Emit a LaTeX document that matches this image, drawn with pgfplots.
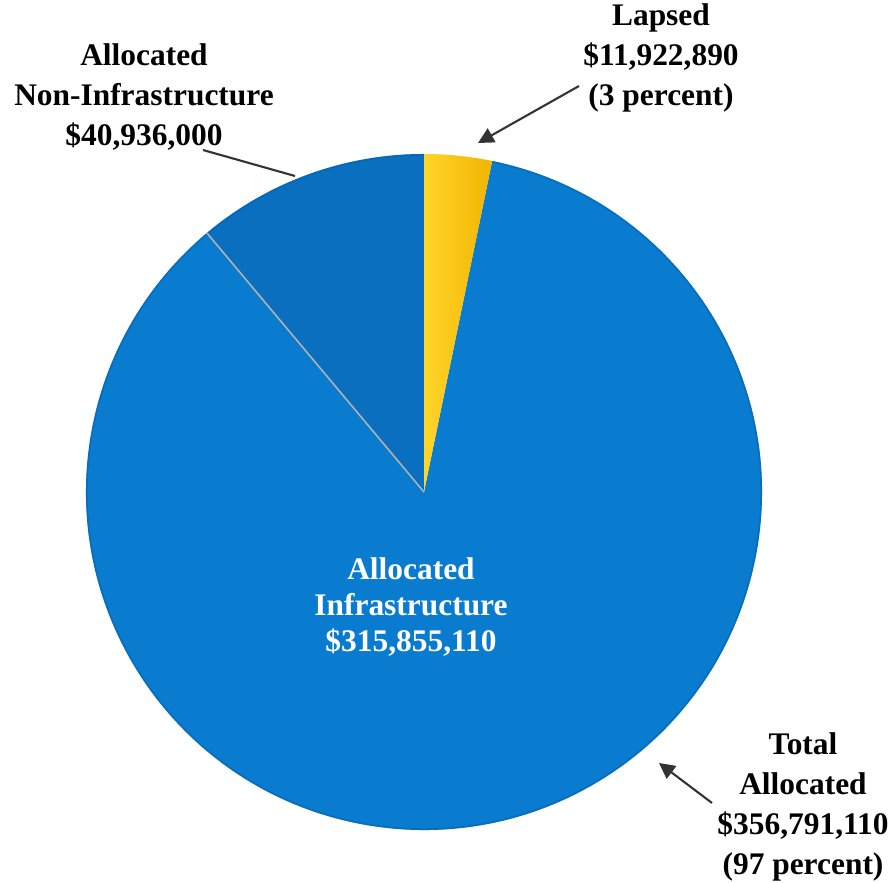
\documentclass[border=0pt]{standalone}
\usepackage{pgfplots}
\pgfplotsset{compat=1.18}
\usepackage{pgfplotstable}
\usepackage{fontspec}
\setmainfont{Liberation Serif}[BoldFont={Liberation Serif Bold}]
\usetikzlibrary{arrows.meta}
\definecolor{pieblue}{HTML}{0A7CD0}
\definecolor{pieblueD}{HTML}{0A6FBF}
\definecolor{pieblueE}{HTML}{0860A8}
\definecolor{pieyellowL}{HTML}{FFD52A}
\definecolor{pieyellowD}{HTML}{F3B400}
\tikzset{lbl/.style={font=\fontsize{9}{11.5}\selectfont\bfseries, align=center, inner sep=0pt}}
% values in millions of dollars
\pgfplotstableread{
name value
Lapsed 11.92289
Infrastructure 315.85511
NonInfrastructure 40.936
}\piedata
\pgfplotstablegetelem{0}{value}\of\piedata \let\vLap\pgfplotsretval
\pgfplotstablegetelem{1}{value}\of\piedata \let\vInf\pgfplotsretval
\pgfplotstablegetelem{2}{value}\of\piedata \let\vNon\pgfplotsretval
\pgfmathsetmacro\vTot{\vLap+\vInf+\vNon}
\pgfmathsetmacro\aLap{360*(\vLap/\vTot)}
\pgfmathsetmacro\aInf{360*(\vInf/\vTot)}
\pgfmathsetmacro\aNon{360*(\vNon/\vTot)}
\pgfmathsetmacro\bA{90-\aLap}
\pgfmathsetmacro\bB{90-\aLap-\aInf}
\def\R{3.4027cm}
\begin{document}
\begin{tikzpicture}
\begin{axis}[
  width=9cm, height=8.889cm, scale only axis,
  xmin=0, xmax=894, ymin=0, ymax=883, y dir=reverse,
  hide axis, clip=false,
]
% Infrastructure slice
\fill[pieblue] (axis cs:424,492) -- ++(\bA:\R) arc[start angle=\bA, end angle=\bB, radius=\R] -- cycle;
% Non-infrastructure slice
\fill[pieblueD] (axis cs:424,492) -- ++(\bB:\R) arc[start angle=\bB, end angle=-270, radius=\R] -- cycle;
% rim
\draw[pieblueE, opacity=0.5, line width=0.5pt] (axis cs:424,492) ++(\bA:\R-0.25pt) arc[start angle=\bA, end angle=-270, radius=\R-0.25pt];
% Lapsed slice
\shade[left color=pieyellowL, right color=pieyellowD] (axis cs:424,492) -- ++(90:\R) arc[start angle=90, end angle=\bA, radius=\R] -- cycle;
% separator
\draw[gray!60, line width=0.45pt] (axis cs:424,492) -- ++(\bB:\R);
% labels
\node[lbl, font=\fontsize{9}{10.3}\selectfont\bfseries, text=white] at (axis cs:411,607) {Allocated\\Infrastructure\\\$315,855,110};
\node[lbl] at (axis cs:661,58) {Lapsed\\\$11,922,890\\(3 percent)};
\node[lbl] at (axis cs:144,97) {Allocated\\Non-Infrastructure\\\$40,936,000};
\node[lbl] at (axis cs:803,807) {Total\\Allocated\\\$356,791,110\\(97 percent)};
% leaders
\draw[black!80, line width=0.6pt, -{Triangle[length=4.5pt,width=4.5pt]}] (axis cs:579,86) -- (axis cs:478,143);
\draw[black!80, line width=0.6pt, -{Triangle[length=4.5pt,width=4.5pt]}] (axis cs:712,803) -- (axis cs:659,763);
\draw[black!80, line width=0.6pt] (axis cs:203,150) -- (axis cs:295,176);
\end{axis}
\pgfresetboundingbox
\path (current axis.south west) rectangle (current axis.north east);
\end{tikzpicture}
\end{document}
